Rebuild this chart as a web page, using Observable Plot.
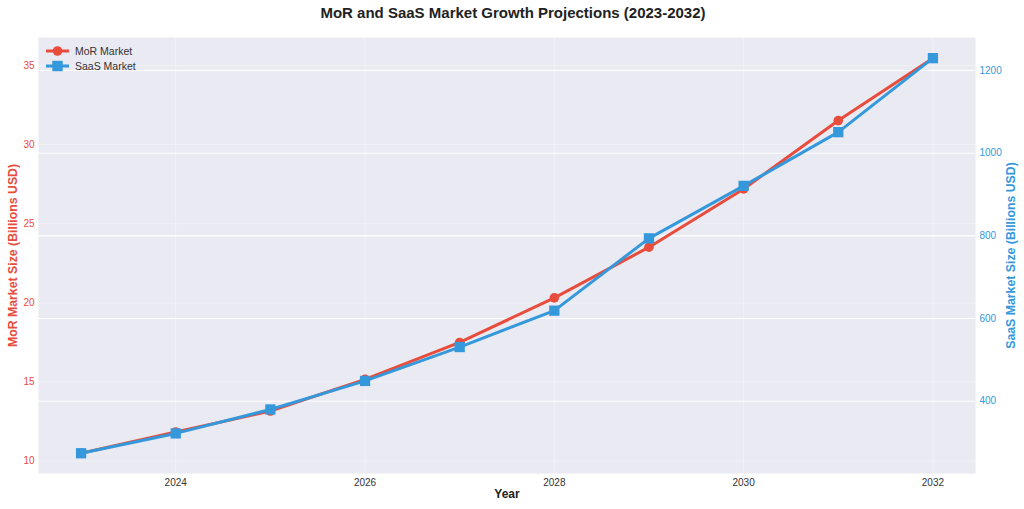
<!DOCTYPE html>
<html>
<head>
<meta charset="utf-8">
<script src="https://cdn.jsdelivr.net/npm/d3@7"></script>
<script src="https://cdn.jsdelivr.net/npm/@observablehq/plot@0.6"></script>
<style>
  html, body { margin: 0; padding: 0; background: #fff; }
  body { width: 1024px; height: 509px; overflow: hidden; font-family: "Liberation Sans", Arial, sans-serif; }
  #title { height: 26px; line-height: 26px; text-align: center; font-weight: bold; font-size: 15px; color: #222; padding-left: 2px; }
  #chart { position: relative; }
</style>
</head>
<body>
<div id="title">MoR and SaaS Market Growth Projections (2023-2032)</div>
<div id="chart"></div>
<script>
const years = [2023, 2024, 2025, 2026, 2027, 2028, 2029, 2030, 2031, 2032];
const morValues = [10.5, 11.84, 13.17, 15.17, 17.5, 20.32, 23.52, 27.2, 31.52, 35.46];
const saasValues = [274, 322, 380, 449, 531, 619, 794, 921, 1051, 1230];
const xTicks = [2024, 2026, 2028, 2030, 2032];
const leftTicks = [10, 15, 20, 25, 30, 35];
const rightTicks = [400, 600, 800, 1000, 1200];

const RED = "#E74C3C";
const BLUE = "#3498DB";

const leftDomain = [9.22, 36.77];
const rightDomain = [225, 1280];
const r2l = d3.scaleLinear().domain(rightDomain).range(leftDomain);

const data = years.map((year, i) => ({ year, mor: morValues[i], saas: saasValues[i] }));

const plot = Plot.plot({
  width: 1024,
  height: 483,
  marginTop: 11,
  marginBottom: 36,
  marginLeft: 38,
  marginRight: 49,
  style: { fontFamily: "Liberation Sans, Arial, sans-serif", fontSize: "10px", background: "transparent", overflow: "visible" },
  x: { domain: [2022.55, 2032.45] },
  y: { domain: leftDomain },
  marks: [
    Plot.frame({ fill: "#EAEAF2", stroke: null }),
    Plot.gridY(leftTicks, { stroke: "white", strokeOpacity: 0.35, strokeWidth: 1 }),
    Plot.gridX(xTicks, { stroke: "white", strokeOpacity: 0.35, strokeWidth: 1 }),
    Plot.gridY(rightTicks.map(r2l), { stroke: "white", strokeOpacity: 1, strokeWidth: 1.1 }),
    Plot.axisX(xTicks, { tickSize: 0, tickPadding: 5, tickFormat: d => String(d), color: "#333", label: null, fontSize: 10 }),
    Plot.axisY(leftTicks, { anchor: "left", tickSize: 0, tickPadding: 4, color: RED, label: null, fontSize: 10 }),
    Plot.axisY(rightTicks.map(r2l), { anchor: "right", tickSize: 0, tickPadding: 4, color: BLUE, label: null, fontSize: 10,
      tickFormat: d => String(Math.round(r2l.invert(d))) }),
    Plot.line(data, { x: "year", y: "mor", stroke: RED, strokeWidth: 3 }),
    Plot.dot(data, { x: "year", y: "mor", fill: RED, r: 4.8, symbol: "circle" }),
    Plot.line(data, { x: "year", y: d => r2l(d.saas), stroke: BLUE, strokeWidth: 3 }),
    Plot.dot(data, { x: "year", y: d => r2l(d.saas), fill: BLUE, r: 5.8, symbol: "square" }),
    Plot.text(["MoR Market Size (Billions USD)"], { frameAnchor: "left", dx: -25, rotate: -90, textAnchor: "middle", lineAnchor: "middle", fill: RED, fontWeight: "bold", fontSize: 12.3 }),
    Plot.text(["SaaS Market Size (Billions USD)"], { frameAnchor: "right", dx: 36, rotate: -90, textAnchor: "middle", lineAnchor: "middle", fill: BLUE, fontWeight: "bold", fontSize: 12.3 }),
    Plot.text(["Year"], { frameAnchor: "bottom", dy: 21, textAnchor: "middle", lineAnchor: "middle", fill: "#222", fontWeight: "bold", fontSize: 12 })
  ]
});

document.getElementById("chart").appendChild(plot);

// Legend (upper left inside the frame)
const svg = d3.select(plot);
const legend = svg.append("g")
  .attr("font-family", "Liberation Sans, Arial, sans-serif")
  .attr("font-size", 10.5)
  .attr("fill", "#333")
  .attr("text-anchor", "start");
const entries = [
  { label: "MoR Market", color: RED, shape: "circle", y: 51 - 26 },
  { label: "SaaS Market", color: BLUE, shape: "square", y: 66 - 26 }
];
entries.forEach(e => {
  legend.append("line").attr("x1", 46).attr("x2", 69).attr("y1", e.y).attr("y2", e.y)
    .attr("stroke", e.color).attr("stroke-width", 3);
  if (e.shape === "circle") {
    legend.append("circle").attr("cx", 57.5).attr("cy", e.y).attr("r", 4.8).attr("fill", e.color);
  } else {
    legend.append("rect").attr("x", 57.5 - 5.2).attr("y", e.y - 5.2).attr("width", 10.4).attr("height", 10.4).attr("fill", e.color);
  }
  legend.append("text").attr("x", 75).attr("y", e.y).attr("dy", "0.35em").attr("text-anchor", "start").text(e.label);
});
</script>
</body>
</html>
